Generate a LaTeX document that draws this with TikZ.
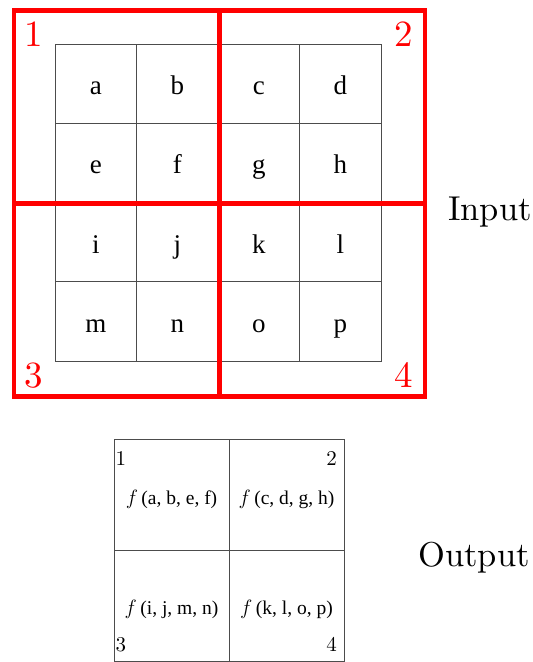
\documentclass[tikz,border=0pt]{standalone}
\usepackage{fontspec}
\newfontfamily\cellfont{Liberation Serif}
\newfontfamily\lmten{lmroman10-regular.otf}
\begin{document}
\begin{tikzpicture}[x=1pt,y=-1pt,
  cell/.style={draw=black!70, line width=0.9pt, minimum width=81.5pt, minimum height=79.25pt, inner sep=0pt, text height=22pt, text depth=0pt, font=\cellfont\fontsize{27}{32}\selectfont},
  quad/.style={draw=red, line width=4.3pt, minimum width=205.5pt, minimum height=193pt, inner sep=0pt},
  bignum/.style={text=red, inner sep=0pt, font=\lmten\fontsize{37}{42}\selectfont},
  outcell/.style={draw=black!70, line width=0.9pt, minimum width=115pt, minimum height=111pt, inner sep=0pt},
  outnum/.style={inner sep=0pt, font=\lmten\fontsize{21}{25}\selectfont},
  func/.style={inner sep=0pt, font=\cellfont\fontsize{19.5}{23}\selectfont},
  title/.style={inner sep=0pt, font=\lmten\fontsize{34.5}{40}\selectfont}]
\useasboundingbox (0,0) rectangle (533,662);
% input grid
\foreach \row [count=\r from 0] in {{a,b,c,d},{e,f,g,h},{i,j,k,l},{m,n,o,p}}
{
	\foreach \l [count=\c from 0] in \row
		\node[cell] (cell-\l) at (95.75+81.5*\c, 83.6+79.25*\r) {\l};
}
% pooling regions
\node[quad] (q1) at (116.75,107) {};
\node[quad] (q2) at (322.25,107) {};
\node[quad] (q3) at (116.75,300) {};
\node[quad] (q4) at (322.25,300) {};
\node[bignum, anchor=base] (n1) at (34,46) {1};
\node[bignum, anchor=base] (n2) at (404,46) {2};
\node[bignum, anchor=base] (n3) at (34,387) {3};
\node[bignum, anchor=base] (n4) at (404,387) {4};
\node[title, anchor=base] (input) at (490,220) {Input};
% output grid
\node[outcell] (o1) at (171.5,495) {};
\node[outcell] (o2) at (286.5,495) {};
\node[outcell] (o3) at (171.5,606) {};
\node[outcell] (o4) at (286.5,606) {};
\node[outnum, anchor=base west] (m1) at (115.5,465) {1};
\node[outnum, anchor=base east] (m2) at (337,465) {2};
\node[outnum, anchor=base west] (m3) at (115.5,651) {3};
\node[outnum, anchor=base east] (m4) at (337,651) {4};
\node[func, anchor=base] (f1) at (o1 |- 0,504) {$f\,$(a, b, e, f)};
\node[func, anchor=base] (f2) at (o2 |- 0,504) {$f\,$(c, d, g, h)};
\node[func, anchor=base] (f3) at (o3 |- 0,614) {$f\,$(i, j, m, n)};
\node[func, anchor=base] (f4) at (o4 |- 0,614) {$f\,$(k, l, o, p)};
\node[title, anchor=base] (output) at (474,566) {Output};
\end{tikzpicture}
\end{document}
